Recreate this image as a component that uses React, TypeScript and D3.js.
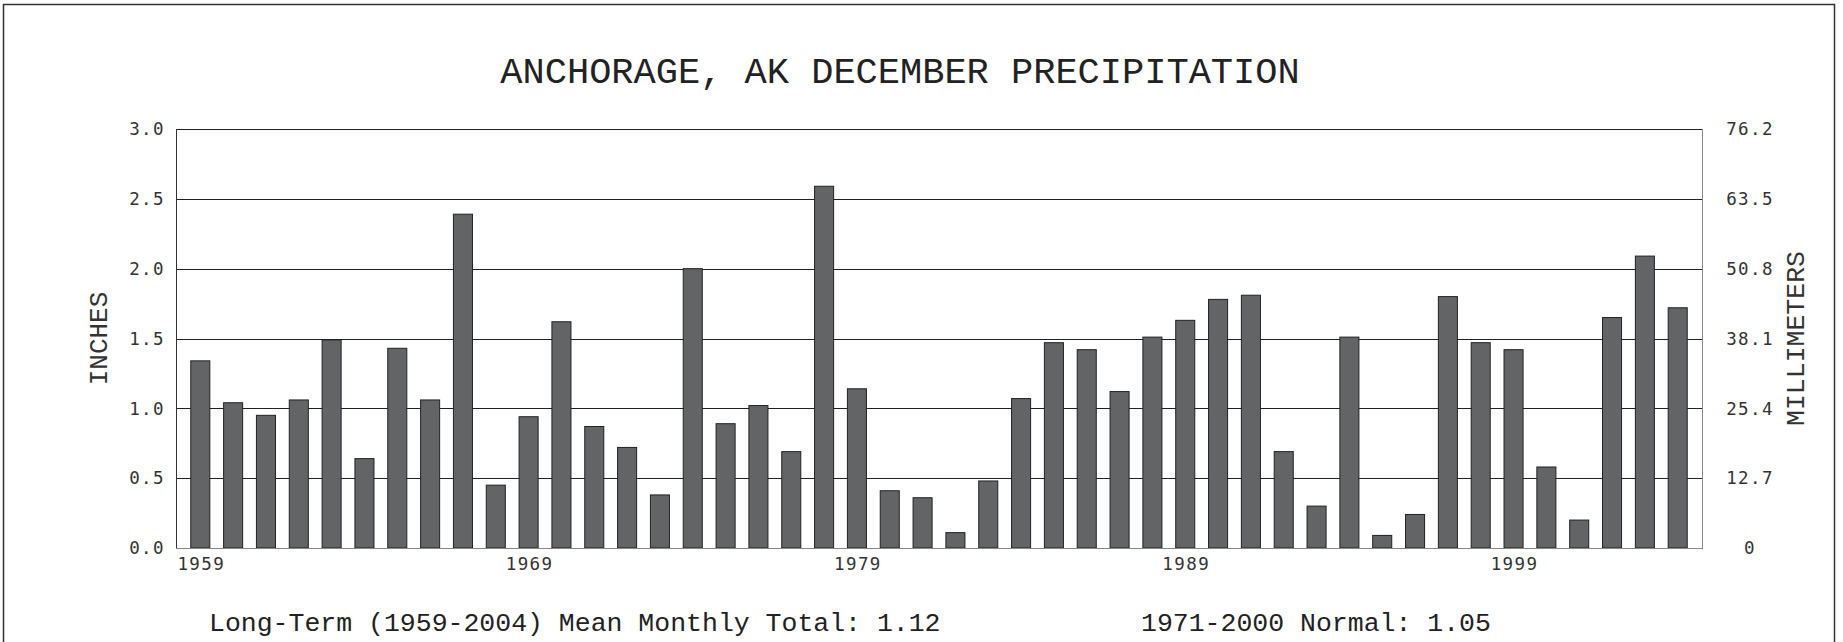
import React, { useEffect, useRef } from "react";
import * as d3 from "d3";

// December precipitation (inches), Anchorage AK
const years = d3.range(1959, 2005);
const precip = [
  1.34, 1.04, 0.95, 1.06, 1.49, 0.64, 1.43, 1.06, 2.39, 0.45,
  0.94, 1.62, 0.87, 0.72, 0.38, 2.0, 0.89, 1.02, 0.69, 2.59,
  1.14, 0.41, 0.36, 0.11, 0.48, 1.07, 1.47, 1.42, 1.12, 1.51,
  1.63, 1.78, 1.81, 0.69, 0.3, 1.51, 0.09, 0.24, 1.8, 1.47,
  1.42, 0.58, 0.2, 1.65, 2.09, 1.72,
];
const inchTicks = [0, 0.5, 1, 1.5, 2, 2.5, 3];
const mmLabels = ["0", "12.7", "25.4", "38.1", "50.8", "63.5", "76.2"];
const yearLabels = [1959, 1969, 1979, 1989, 1999];

const title = "ANCHORAGE, AK DECEMBER PRECIPITATION";
const footLeft = "Long-Term (1959-2004) Mean Monthly Total: 1.12";
const footRight = "1971-2000 Normal: 1.05";

const W = 1843;
const H = 642;

const App = () => {
  const svgRef = useRef(null);

  useEffect(() => {
    const svg = d3.select(svgRef.current);
    svg.selectAll("*").remove();

    const left = 176, right = 1702, top = 129, bottom = 548;
    const mono = "'Liberation Mono', 'Courier New', monospace";
    const tickFont = "'DejaVu Sans Mono', monospace";

    const x = d3
      .scaleBand()
      .domain(years)
      .range([left, right])
      .paddingInner(0.42)
      .paddingOuter(0.45);
    const y = d3.scaleLinear().domain([0, 3]).range([bottom, top]);

    // outer frame
    svg
      .append("rect")
      .attr("x", 3.5)
      .attr("y", 4.5)
      .attr("width", 1831)
      .attr("height", 700)
      .attr("fill", "none")
      .attr("stroke", "#333")
      .attr("stroke-width", 1.5);

    svg
      .append("text")
      .attr("x", 900)
      .attr("y", 83)
      .attr("text-anchor", "middle")
      .attr("font-family", mono)
      .attr("font-size", 37)
      .attr("fill", "#222")
      .text(title);

    // grid
    svg
      .append("g")
      .selectAll("line")
      .data(inchTicks.slice(1))
      .join("line")
      .attr("x1", left)
      .attr("x2", right)
      .attr("y1", (d) => Math.round(y(d)) + 0.5)
      .attr("y2", (d) => Math.round(y(d)) + 0.5)
      .attr("stroke", "#222")
      .attr("stroke-width", 1);

    // bars
    svg
      .append("g")
      .selectAll("rect")
      .data(precip)
      .join("rect")
      .attr("x", (d, i) => x(years[i]))
      .attr("y", (d) => y(d))
      .attr("width", x.bandwidth())
      .attr("height", (d) => bottom - y(d))
      .attr("fill", "#636466")
      .attr("stroke", "#222")
      .attr("stroke-width", 1);

    // plot border
    const border = svg.append("g").attr("fill", "none");
    border
      .append("line")
      .attr("x1", left + 0.5).attr("x2", left + 0.5)
      .attr("y1", top).attr("y2", bottom)
      .attr("stroke", "#333");
    border
      .append("line")
      .attr("x1", right + 0.5).attr("x2", right + 0.5)
      .attr("y1", top).attr("y2", bottom)
      .attr("stroke", "#888");
    border
      .append("line")
      .attr("x1", left).attr("x2", right + 1)
      .attr("y1", bottom + 0.5).attr("y2", bottom + 0.5)
      .attr("stroke", "#888");

    const tickText = (sel) =>
      sel
        .attr("font-family", tickFont)
        .attr("font-size", 17.5)
        .attr("letter-spacing", 1.4)
        .attr("fill", "#333");

    // left ticks
    svg
      .append("g")
      .selectAll("text")
      .data(inchTicks)
      .join("text")
      .attr("x", 165)
      .attr("y", (d) => y(d))
      .attr("dy", "0.36em")
      .attr("text-anchor", "end")
      .call(tickText)
      .text((d) => d.toFixed(1));

    // right ticks
    svg
      .append("g")
      .selectAll("text")
      .data(mmLabels)
      .join("text")
      .attr("x", 1750)
      .attr("y", (d, i) => y(inchTicks[i]))
      .attr("dy", "0.36em")
      .attr("text-anchor", "middle")
      .call(tickText)
      .text((d) => d);

    // year labels
    svg
      .append("g")
      .selectAll("text")
      .data(yearLabels)
      .join("text")
      .attr("x", (d) => x(d) + x.bandwidth() / 2 + 1)
      .attr("y", 570)
      .attr("text-anchor", "middle")
      .call(tickText)
      .text((d) => d);

    // axis titles
    svg
      .append("text")
      .attr("transform", `translate(107,${(top + bottom) / 2}) rotate(-90)`)
      .attr("text-anchor", "middle")
      .attr("font-family", mono)
      .attr("font-size", 26)
      .attr("fill", "#333")
      .text("INCHES");
    svg
      .append("text")
      .attr("transform", `translate(1804,${(top + bottom) / 2}) rotate(-90)`)
      .attr("text-anchor", "middle")
      .attr("font-family", mono)
      .attr("font-size", 26.5)
      .attr("fill", "#333")
      .text("MILLIMETERS");

    // footer
    svg
      .append("text")
      .attr("x", 209)
      .attr("y", 631)
      .attr("font-family", mono)
      .attr("font-size", 26.5)
      .attr("fill", "#222")
      .text(footLeft);
    svg
      .append("text")
      .attr("x", 1141)
      .attr("y", 631)
      .attr("font-family", mono)
      .attr("font-size", 26.5)
      .attr("fill", "#222")
      .text(footRight);
  }, []);

  return (
    <svg
      ref={svgRef}
      width={W}
      height={H}
      style={{ position: "absolute", left: 0, top: 0, background: "#fff" }}
    ></svg>
  );
};

export default App;
